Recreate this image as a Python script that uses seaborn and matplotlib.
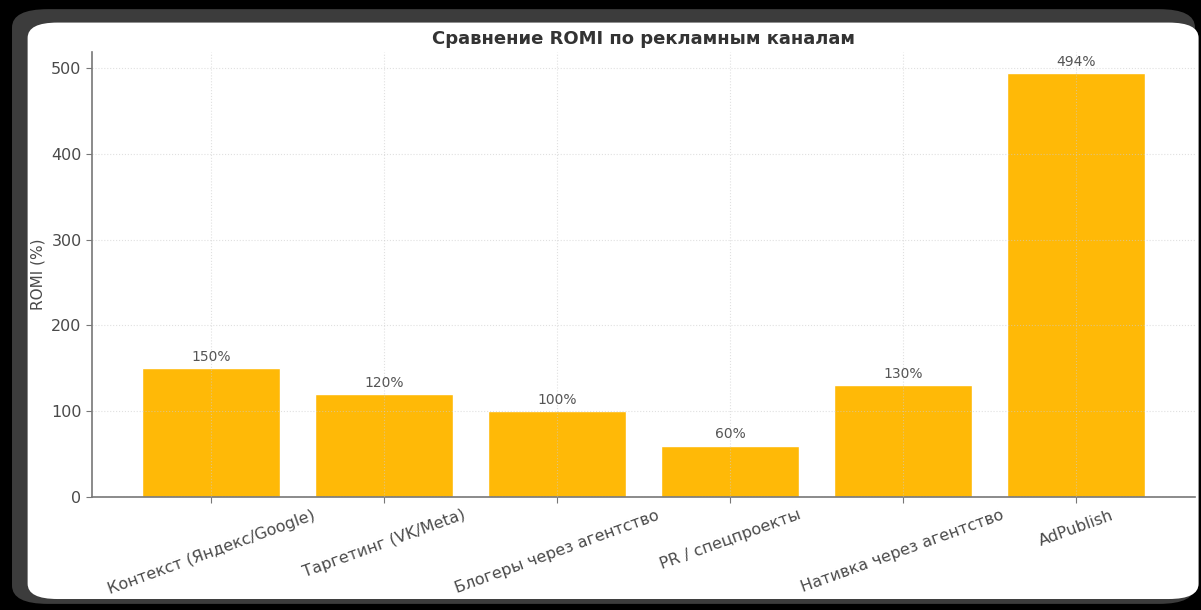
import matplotlib
matplotlib.use("Agg")
import matplotlib.pyplot as plt
from matplotlib.patches import FancyBboxPatch
import pandas as pd
import seaborn as sns

sns.set_style("white")
plt.rcParams['font.family'] = ['DejaVu Sans']

################################################
# Data
################################################
channels = [
  "Контекст (Яндекс/Google)",
  "Таргетинг (VK/Meta)",
  "Блогеры через агентство",
  "PR / спецпроекты",
  "Нативка через агентство",
  "AdPublish",
]
romi = [150, 120, 100, 60, 130, 494]

BAR_COLOR = "#FFB907"
TEXT_COLOR = "#4a4a4a"

df = pd.DataFrame({"channel": channels, "romi": romi})

fig = plt.figure(figsize=(12.01, 6.10), dpi=100, facecolor="black")

# screenshot frame: dark rounded border + white panel (behind the axes)
fig.patches.append(FancyBboxPatch(
  (0.010, 0.010), 0.985, 0.975, boxstyle="round,pad=0,rounding_size=0.03",
  transform=fig.transFigure, facecolor="#3c3c3c", edgecolor="none", zorder=-2))
fig.patches.append(FancyBboxPatch(
  (0.023, 0.018), 0.975, 0.945, boxstyle="round,pad=0,rounding_size=0.025",
  transform=fig.transFigure, facecolor="white", edgecolor="none", zorder=-1))

ax = fig.add_axes([0.0766, 0.1852, 0.9184, 0.7296])
ax.set_facecolor("none")

sns.barplot(data=df, x="channel", y="romi", color=BAR_COLOR, width=0.8,
            saturation=1, ax=ax, zorder=2)

for i, v in enumerate(romi):
  ax.text(i, v + 5, f"{v}%", ha="center", va="bottom", fontsize=10, color="#555555")

ax.set_xlim(-0.69, len(channels) - 1 + 0.69)
ax.set_ylim(0, max(romi) * 1.05)
ax.set_yticks([0, 100, 200, 300, 400, 500])

ax.grid(True, linestyle=":", color="#cccccc", linewidth=0.8, alpha=0.6)
ax.set_axisbelow(False)

ax.set_title("Сравнение ROMI по рекламным каналам", fontsize=13, fontweight="bold",
             color="#333333", pad=6)
ax.set_xlabel("")
ax.set_ylabel("ROMI (%)", fontsize=11, color=TEXT_COLOR)

plt.setp(ax.get_xticklabels(), rotation=20, ha="center", fontsize=11.5, color=TEXT_COLOR)
plt.setp(ax.get_yticklabels(), fontsize=11.5, color=TEXT_COLOR)
ax.tick_params(axis="both", which="both", length=4, color="#777777", direction="out")
ax.tick_params(axis="both", bottom=True, left=True)

sns.despine(ax=ax)
for s in ["left", "bottom"]:
  ax.spines[s].set_color("#777777")
  ax.spines[s].set_linewidth(1.2)

fig.savefig("out.png", dpi=100, facecolor=fig.get_facecolor())
